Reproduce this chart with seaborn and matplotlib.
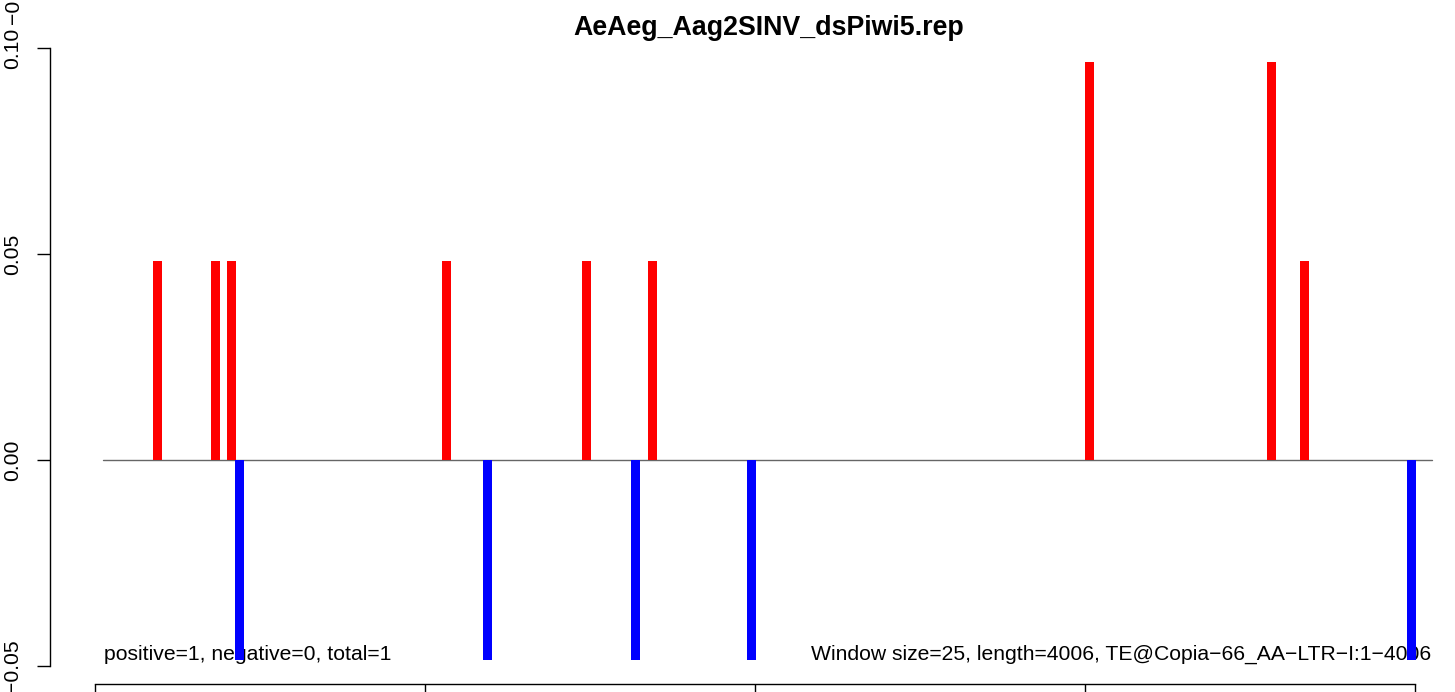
import numpy as np
import pandas as pd
import matplotlib
matplotlib.use("Agg")
import matplotlib.pyplot as plt
import seaborn as sns

# window positions (bar centres) and normalised counts
red_pos = [190, 365, 414, 1065, 1489, 1689, 3014, 3565, 3665]
red_val = [0.0483, 0.0483, 0.0483, 0.0483, 0.0483, 0.0483, 0.0966, 0.0966, 0.0483]
blue_pos = [438, 1189, 1638, 1989, 3989]
blue_val = [-0.0485, -0.0485, -0.0485, -0.0485, -0.0485]

x_ticks = [0, 1000, 2000, 3000, 4000]
y_ticks = [-0.05, 0.00, 0.05, 0.10]
y_labels = ["\u22120.05", "0.00", "0.05", "0.10"]

title = "AeAeg_Aag2SINV_dsPiwi5.rep"
left_note = "positive=1, negative=0, total=1"
right_note = "Window size=25, length=4006, TE@Copia\u221266_AA\u2212LTR\u2212I:1\u22124006"

sns.set_style("ticks")
plt.rcParams["font.family"] = ["Liberation Sans", "DejaVu Sans"]
plt.rcParams["text.color"] = "black"
plt.rcParams["xtick.color"] = "black"
plt.rcParams["ytick.color"] = "black"
plt.rcParams["axes.labelcolor"] = "black"

red = pd.DataFrame({"pos": red_pos, "val": red_val})
blue = pd.DataFrame({"pos": blue_pos, "val": blue_val})

fig = plt.figure(figsize=(14.55, 6.92), dpi=100)
ax = fig.add_axes([50 / 1455, 8 / 692, 1390 / 1455, 636 / 692])

bar_w = 27
for df, col in [(red, "#FF0000"), (blue, "#0000FF")]:
    step = np.diff(np.unique(df["pos"])).min()
    sns.barplot(data=df, x="pos", y="val", native_scale=True, width=bar_w / step,
                color=col, saturation=1, errorbar=None, linewidth=0, zorder=2, ax=ax)

ax.axhline(0, xmin=53 / 1390, xmax=1382 / 1390, color="#666666", lw=1, zorder=1)

ax.set_xlim(-45 / 0.33, 1345 / 0.33)
ax.set_ylim(-0.05 - 18 / 4120, 0.10)
ax.set_xlabel("")
ax.set_ylabel("")

ax.set_xticks(x_ticks)
ax.set_xticklabels([""] * len(x_ticks))
ax.set_yticks(y_ticks)
ax.set_yticklabels(y_labels, rotation=90, va="center", fontsize=15.2, color="black")
ax.tick_params(axis="both", direction="out", length=9.4, width=1, color="black")
ax.tick_params(axis="y", pad=11)

for s in ["top", "right"]:
    ax.spines[s].set_visible(False)
ax.spines["left"].set_bounds(-0.05, 0.10)
ax.spines["bottom"].set_bounds(0, 4000)
ax.spines["left"].set_linewidth(1)
ax.spines["bottom"].set_linewidth(1)
ax.spines["left"].set_color("black")
ax.spines["bottom"].set_color("black")

ax.text(54 / 1390, 24 / 636, left_note, transform=ax.transAxes, fontsize=15.2,
        ha="left", va="baseline", color="black", zorder=1)
ax.text(1381 / 1390, 24 / 636, right_note, transform=ax.transAxes, fontsize=15.2,
        ha="right", va="baseline", color="black", zorder=1)

fig.text(769 / 1455, 1 - 28 / 692, title, fontsize=19.3, fontweight="bold",
         ha="center", va="center", color="black")
# label of the panel above, cut by the top edge as in the source page
fig.text(13.5 / 1455, 1 - 24 / 692, "\u22120.05", rotation=90, fontsize=15.2,
         ha="center", va="bottom", color="black")

fig.savefig("out.png", dpi=100)
plt.close(fig)
